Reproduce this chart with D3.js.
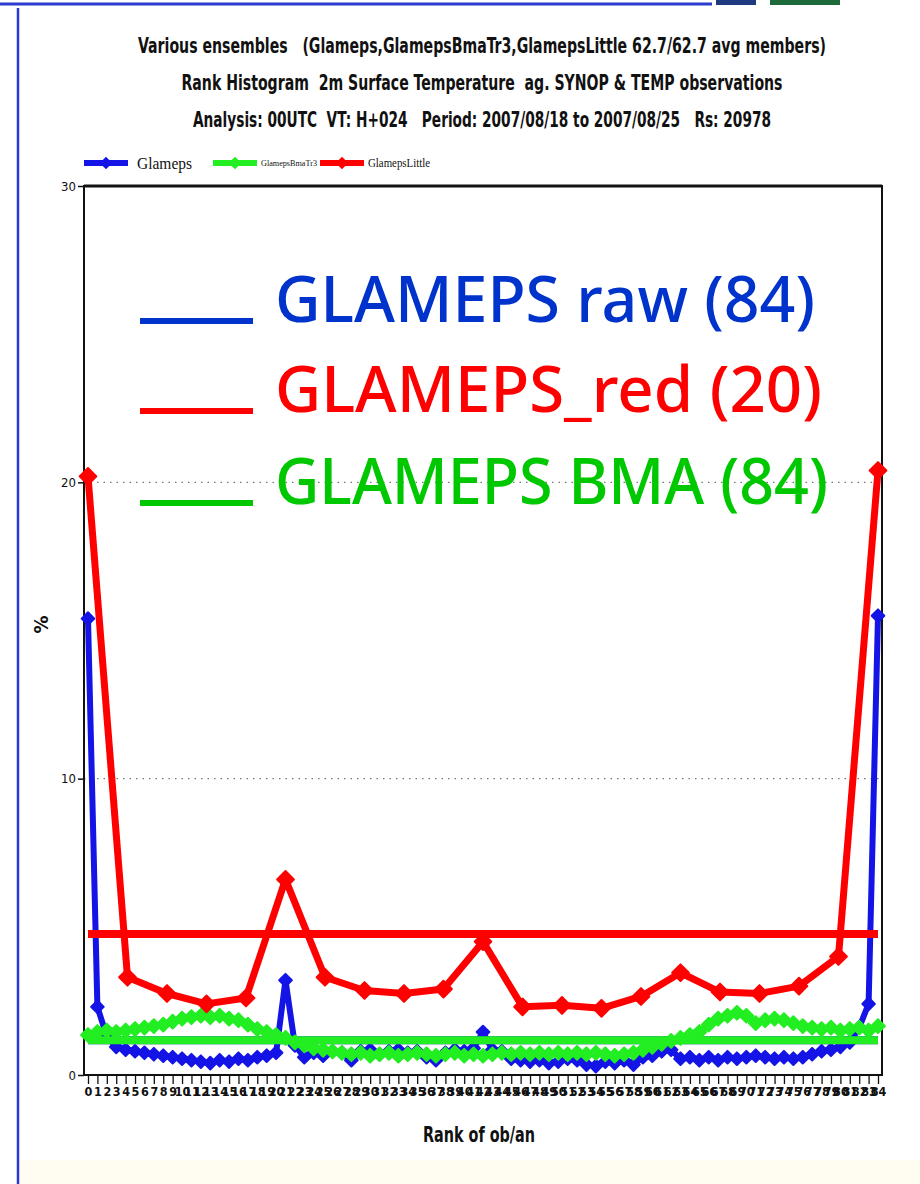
<!DOCTYPE html>
<html>
<head>
<meta charset="utf-8">
<script src="https://cdn.jsdelivr.net/npm/d3@7"></script>
<style>
  body { margin: 0; background: #fff; }
  svg { display: block; }
  text { white-space: pre; }
  .narrow { font-family: "Liberation Sans Narrow", "Arial Narrow", "DejaVu Sans Condensed", sans-serif; }
</style>
</head>
<body>
<div id="chart-area"></div>
<script>

// DATA
var titleLines = [
    "Various ensembles   (Glameps,GlamepsBmaTr3,GlamepsLittle 62.7/62.7 avg members)",
    "Rank Histogram  2m Surface Temperature  ag. SYNOP & TEMP observations",
    "Analysis: 00UTC  VT: H+024   Period: 2007/08/18 to 2007/08/25   Rs: 20978"
];
var seriesNames = ["Glameps", "GlamepsBmaTr3", "GlamepsLittle"];
var overlayLabels = ["GLAMEPS raw (84)", "GLAMEPS_red (20)", "GLAMEPS BMA (84)"];
var yTicks = [0, 10, 20, 30];
var xTicks = d3.range(0, 85);

// Glameps, 84 members -> ranks 0..84
var glameps = [
    15.4, 2.3, 1.3, 0.95, 0.85, 0.8, 0.75, 0.7, 0.65, 0.6,
    0.55, 0.5, 0.45, 0.4, 0.5, 0.45, 0.55, 0.5, 0.6, 0.65,
    0.75, 3.2, 1.0, 0.6, 0.75, 0.65, 0.8, 0.75, 0.5, 0.8,
    0.85, 0.7, 0.8, 0.85, 0.75, 0.8, 0.6, 0.5, 0.75, 0.85,
    0.8, 0.9, 1.45, 0.85, 0.8, 0.55, 0.5, 0.45, 0.5, 0.4,
    0.45, 0.55, 0.5, 0.35, 0.3, 0.45, 0.4, 0.5, 0.35, 0.6,
    0.65, 0.8, 0.85, 0.55, 0.6, 0.5, 0.6, 0.5, 0.6, 0.55,
    0.6, 0.65, 0.6, 0.55, 0.6, 0.55, 0.6, 0.7, 0.8, 0.85,
    0.95, 1.1, 1.6, 2.4, 15.5
];

// GlamepsBmaTr3, 84 members -> ranks 0..84
var glamepsBma = [
    1.35, 1.45, 1.5, 1.45, 1.5, 1.55, 1.6, 1.65, 1.7, 1.8,
    1.9, 1.95, 2.0, 1.95, 2.0, 1.9, 1.85, 1.7, 1.55, 1.45,
    1.35, 1.25, 1.1, 1.0, 0.9, 0.85, 0.8, 0.75, 0.7, 0.75,
    0.65, 0.7, 0.75, 0.65, 0.7, 0.75, 0.7, 0.65, 0.7, 0.75,
    0.65, 0.7, 0.65, 0.7, 0.75, 0.7, 0.75, 0.7, 0.75, 0.7,
    0.75, 0.7, 0.75, 0.7, 0.75, 0.7, 0.65, 0.7, 0.75, 0.85,
    0.95, 1.05, 1.15, 1.25, 1.35, 1.45, 1.7, 1.9, 2.0, 2.1,
    2.0, 1.75, 1.85, 1.9, 1.85, 1.75, 1.65, 1.6, 1.55, 1.6,
    1.5, 1.55, 1.6, 1.5, 1.65
];

// GlamepsLittle, 20 members -> 21 ranks, spread over 0..84
var glamepsLittle = [
    20.2, 3.3, 2.75, 2.4, 2.6, 6.6, 3.3, 2.85, 2.75, 2.9,
    4.5, 2.3, 2.35, 2.25, 2.65, 3.45, 2.8, 2.75, 3.0, 4.0,
    20.4
];

var colors = ["#1414e6", "#22ee22", "#ff0000"];
var textColors = ["#0033cc", "#ff0000", "#00c800"];

// LAYOUT
var W = 920, H = 1184;
var margin = {left: 84, right: 38, top: 186, bottom: 109};
var width = W - margin.left - margin.right;
var height = H - margin.top - margin.bottom;

var svg = d3.select("#chart-area").append("svg")
    .attr("width", W)
    .attr("height", H);

// page frame
svg.append("rect").attr("x", 19).attr("y", 1160).attr("width", W - 19).attr("height", 24).attr("fill", "#fffdf2");
svg.append("line").attr("x1", 18).attr("x2", 18).attr("y1", 8).attr("y2", H)
    .attr("stroke", "#2a3ad0").attr("stroke-width", 2.5);
svg.append("line").attr("x1", 0).attr("x2", 712).attr("y1", 4).attr("y2", 4)
    .attr("stroke", "#2a3ad0").attr("stroke-width", 3);
svg.append("rect").attr("x", 716).attr("y", 0).attr("width", 40).attr("height", 5).attr("fill", "#203a80");
svg.append("rect").attr("x", 770).attr("y", 0).attr("width", 70).attr("height", 5).attr("fill", "#1f6a3a");

// titles
var titleBaseline = [53, 90, 127];
var titleWidth = [688, 601, 578];
svg.selectAll(".title").data(titleLines).enter().append("text")
    .attr("class", "title narrow")
    .attr("x", 482)
    .attr("y", function(d, i) { return titleBaseline[i]; })
    .attr("text-anchor", "middle")
    .attr("font-size", 21)
    .attr("font-weight", "bold")
    .attr("fill", "#111")
    .attr("textLength", function(d, i) { return titleWidth[i]; })
    .attr("lengthAdjust", "spacingAndGlyphs")
    .text(function(d) { return d; });

var g = svg.append("g")
    .attr("transform", "translate(" + margin.left + "," + margin.top + ")");

var x = d3.scaleLinear()
    .domain([0, 84])
    .range([4, width - 4]);

var y = d3.scaleLinear()
    .domain([0, 30])
    .range([height, 0]);

// grid lines
g.selectAll(".grid").data([10, 20]).enter().append("line")
    .attr("x1", 0).attr("x2", width)
    .attr("y1", function(d) { return y(d); })
    .attr("y2", function(d) { return y(d); })
    .attr("stroke", "#777")
    .attr("stroke-width", 1.2)
    .attr("stroke-dasharray", "1.5,5");

// axes
var yAxis = g.append("g")
    .call(d3.axisLeft(y).tickValues(yTicks).tickSize(6).tickFormat(d3.format("d")));
yAxis.select(".domain").remove();
yAxis.selectAll("line").attr("stroke", "#111").attr("stroke-width", 1.5);
yAxis.selectAll("text")
    .attr("class", "narrow")
    .attr("font-size", 13)
    .attr("fill", "#111")
    .attr("x", -8);

var xAxis = g.append("g")
    .attr("transform", "translate(0," + height + ")")
    .call(d3.axisBottom(x).tickValues(xTicks).tickSize(9).tickFormat(d3.format("d")));
xAxis.select(".domain").remove();
xAxis.selectAll("line").attr("stroke", "#111").attr("stroke-width", 1.3);
xAxis.selectAll("text")
    .attr("class", "narrow")
    .attr("font-size", 12.5)
    .attr("font-weight", "bold")
    .attr("fill", "#111")
    .attr("y", 12);

// plot box
g.append("rect")
    .attr("width", width)
    .attr("height", height)
    .attr("fill", "none")
    .attr("stroke", "#111")
    .attr("stroke-width", 2);
g.append("line").attr("x1", 0).attr("x2", width).attr("y1", 0).attr("y2", 0)
    .attr("stroke", "#111").attr("stroke-width", 3);

// axis titles
g.append("text")
    .attr("class", "narrow")
    .attr("transform", "translate(-36," + y(15.2) + ") rotate(-90)")
    .attr("text-anchor", "middle")
    .attr("font-size", 20)
    .attr("font-weight", "bold")
    .attr("fill", "#111")
    .text("%");

g.append("text")
    .attr("class", "narrow")
    .attr("x", x(42) - 4)
    .attr("y", height + 67)
    .attr("text-anchor", "middle")
    .attr("font-size", 21)
    .attr("font-weight", "bold")
    .attr("fill", "#111")
    .attr("textLength", 112)
    .attr("lengthAdjust", "spacingAndGlyphs")
    .text("Rank of ob/an");

// SERIES
var line = d3.line()
    .x(function(d) { return x(d.rank); })
    .y(function(d) { return y(d.value); });

function toPoints(values) {
    var n = values.length - 1;
    return values.map(function(v, i) { return {rank: i * 84 / n, value: v}; });
}

var series = [
    {name: seriesNames[0], points: toPoints(glameps), color: colors[0], width: 6, size: 80, expected: 100 / glameps.length},
    {name: seriesNames[1], points: toPoints(glamepsBma), color: colors[1], width: 7, size: 95, expected: 100 / glamepsBma.length},
    {name: seriesNames[2], points: toPoints(glamepsLittle), color: colors[2], width: 7, size: 140, expected: 100 / glamepsLittle.length}
];

// square diamond marker (rotated square)
var marker = d3.symbol().type(d3.symbolSquare);

series.forEach(function(s) {
    g.append("line")
        .attr("x1", x(0)).attr("x2", x(84))
        .attr("y1", y(s.expected)).attr("y2", y(s.expected))
        .attr("stroke", s.color)
        .attr("stroke-width", 8);
    g.append("path")
        .datum(s.points)
        .attr("fill", "none")
        .attr("stroke", s.color)
        .attr("stroke-width", s.width)
        .attr("stroke-linejoin", "round")
        .attr("d", line);
    g.selectAll(".pt-" + s.name).data(s.points).enter().append("path")
        .attr("class", "pt-" + s.name)
        .attr("transform", function(d) { return "translate(" + x(d.rank) + "," + y(d.value) + ") rotate(45)"; })
        .attr("d", marker.size(s.size)())
        .attr("fill", s.color)
        .attr("stroke", s.color)
        .attr("stroke-width", 2)
        .attr("stroke-linejoin", "round");
});

// LEGEND (top)
var legendX = [84, 213, 320];
var legendTextSize = [16, 8, 12];
var legendTextWidth = [55, 56, 62];
var legend = svg.append("g").attr("transform", "translate(0,163)");
series.forEach(function(s, i) {
    var row = legend.append("g").attr("transform", "translate(" + legendX[i] + ",0)");
    row.append("line").attr("x1", 0).attr("x2", 44)
        .attr("stroke", s.color).attr("stroke-width", 6);
    row.append("path").attr("transform", "translate(22,0) rotate(45)")
        .attr("d", marker.size(80)()).attr("fill", s.color);
    row.append("text")
        .attr("x", i == 0 ? 53 : 48)
        .attr("y", legendTextSize[i] * 0.35)
        .attr("font-family", "Liberation Serif, serif")
        .attr("font-size", legendTextSize[i])
        .attr("fill", "#111")
        .attr("textLength", legendTextWidth[i])
        .attr("lengthAdjust", "spacingAndGlyphs")
        .text(s.name);
});

// OVERLAY LABELS
var overlayBaseline = [322, 412, 504];
var overlayWidth = [540, 547, 553];
var overlay = svg.append("g");
overlayLabels.forEach(function(label, i) {
    overlay.append("line")
        .attr("x1", 140).attr("x2", 253)
        .attr("y1", overlayBaseline[i] - 1).attr("y2", overlayBaseline[i] - 1)
        .attr("stroke", textColors[i])
        .attr("stroke-width", 6);
    overlay.append("text")
        .attr("x", 275)
        .attr("y", overlayBaseline[i])
        .attr("font-family", "Noto Sans, DejaVu Sans, sans-serif")
        .attr("font-size", 64)
        .attr("font-weight", 500)
        .attr("fill", textColors[i])
        .attr("textLength", overlayWidth[i])
        .attr("lengthAdjust", "spacingAndGlyphs")
        .text(label);
});

</script>
</body>
</html>
